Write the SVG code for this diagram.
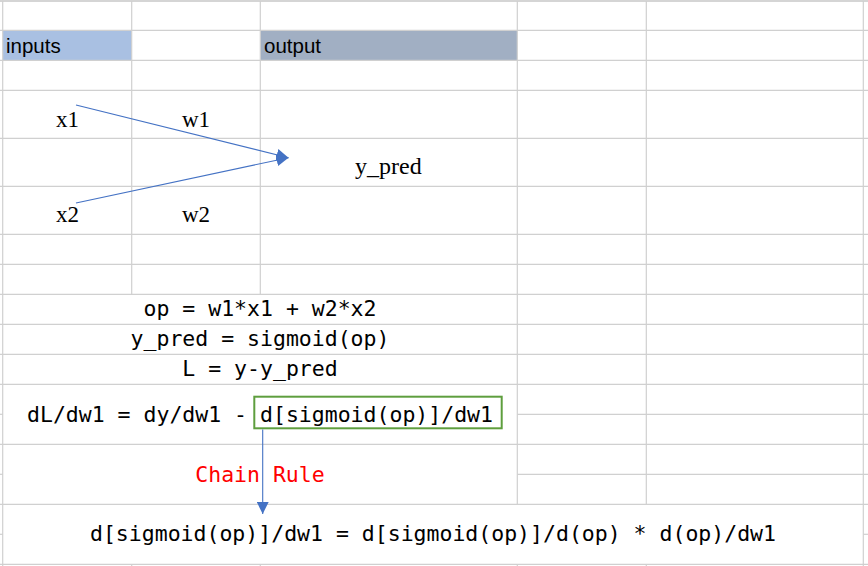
<svg xmlns="http://www.w3.org/2000/svg" width="868" height="566" viewBox="0 0 868 566">
<style>
.grid line{stroke:#d0d0d0;stroke-width:1.2}
.sans{font-family:"Liberation Sans",Arial,sans-serif;font-size:20.5px;fill:#000}
.serif{font-family:"Liberation Serif","Times New Roman",serif;font-size:23px;fill:#000}
.mono{font-family:"DejaVu Sans Mono","Liberation Mono",monospace;font-size:21.5px;fill:#000;text-anchor:middle}
.conn{stroke:#4472C4;stroke-width:1.1;fill:none}
</style>
<defs>
<marker id="ah" viewBox="0 0 10 10" refX="10" refY="5" markerWidth="12" markerHeight="12" markerUnits="userSpaceOnUse" orient="auto">
<path d="M0,0 L10,5 L0,10 Z" fill="#4472C4"/>
</marker>
</defs>
<rect width="868" height="566" fill="#fff"/>
<g id="header-fills">
<rect x="3" y="30" width="128.7" height="30.3" fill="#A9C0E2"/>
<rect x="260.3" y="30" width="257" height="30.3" fill="#A1AFC3"/>
</g>
<g class="grid" id="grid">
<line x1="0" y1="1" x2="868" y2="1" style="stroke:#ababab"/>
<line x1="0" y1="30.3" x2="868" y2="30.3"/>
<line x1="0" y1="60.3" x2="868" y2="60.3"/>
<line x1="0" y1="90.3" x2="868" y2="90.3"/>
<line x1="0" y1="138.3" x2="868" y2="138.3"/>
<line x1="0" y1="186.3" x2="868" y2="186.3"/>
<line x1="0" y1="234.3" x2="868" y2="234.3"/>
<line x1="0" y1="264.3" x2="868" y2="264.3"/>
<line x1="0" y1="294.3" x2="868" y2="294.3"/>
<line x1="0" y1="324.3" x2="868" y2="324.3"/>
<line x1="0" y1="354.3" x2="868" y2="354.3"/>
<line x1="0" y1="384.3" x2="868" y2="384.3"/>
<line x1="0" y1="414.3" x2="3" y2="414.3"/>
<line x1="517.3" y1="414.3" x2="868" y2="414.3"/>
<line x1="0" y1="444.3" x2="868" y2="444.3"/>
<line x1="0" y1="474.3" x2="3" y2="474.3"/>
<line x1="517.3" y1="474.3" x2="868" y2="474.3"/>
<line x1="0" y1="504.3" x2="868" y2="504.3"/>
<line x1="0" y1="534.3" x2="3" y2="534.3"/>
<line x1="863.3" y1="534.3" x2="868" y2="534.3"/>
<line x1="0" y1="564.3" x2="868" y2="564.3"/>
<line x1="2.7" y1="1" x2="2.7" y2="566"/>
<line x1="131.7" y1="1" x2="131.7" y2="294.3"/>
<line x1="260.3" y1="1" x2="260.3" y2="294.3"/>
<line x1="517.3" y1="1" x2="517.3" y2="504.3"/>
<line x1="646.3" y1="1" x2="646.3" y2="504.3"/>
<line x1="131.7" y1="564.3" x2="131.7" y2="566"/>
<line x1="260.3" y1="564.3" x2="260.3" y2="566"/>
<line x1="517.3" y1="564.3" x2="517.3" y2="566"/>
<line x1="646.3" y1="564.3" x2="646.3" y2="566"/>
<line x1="863.3" y1="1" x2="863.3" y2="566"/>
</g>
<g id="node-inputs"><text class="sans" x="6" y="53">inputs</text></g>
<g id="node-output"><text class="sans" x="264" y="53">output</text></g>
<g id="node-x1"><text class="serif" x="56" y="127">x1</text></g>
<g id="node-w1"><text class="serif" x="182" y="127">w1</text></g>
<g id="node-x2"><text class="serif" x="56" y="222">x2</text></g>
<g id="node-w2"><text class="serif" x="182" y="222">w2</text></g>
<g id="node-ypred"><text class="serif" x="355" y="174" style="font-size:24px">y_pred</text></g>
<g id="node-eq1"><text class="mono" x="260" y="316">op = w1*x1 + w2*x2</text></g>
<g id="node-eq2"><text class="mono" x="260" y="346">y_pred = sigmoid(op)</text></g>
<g id="node-eq3"><text class="mono" x="260" y="376">L = y-y_pred</text></g>
<g id="node-eq4">
<text class="mono" x="260" y="422">dL/dw1 = dy/dw1 - d[sigmoid(op)]/dw1</text>
<rect x="254.3" y="396.7" width="247.4" height="31.6" fill="none" stroke="#5E9E3E" stroke-width="2"/>
</g>
<g id="node-chain"><text class="mono" x="260" y="482" style="fill:#FF0000">Chain Rule</text></g>
<g id="node-result"><text class="mono" x="433" y="541">d[sigmoid(op)]/dw1 = d[sigmoid(op)]/d(op) * d(op)/dw1</text></g>
<g id="connectors">
<line class="conn" x1="76" y1="105" x2="288.5" y2="157.7" marker-end="url(#ah)"/>
<line class="conn" x1="76" y1="203" x2="288.5" y2="157.7" marker-end="url(#ah)"/>
<line class="conn" x1="262.7" y1="429.5" x2="262.7" y2="514" marker-end="url(#ah)"/>
</g>
</svg>
